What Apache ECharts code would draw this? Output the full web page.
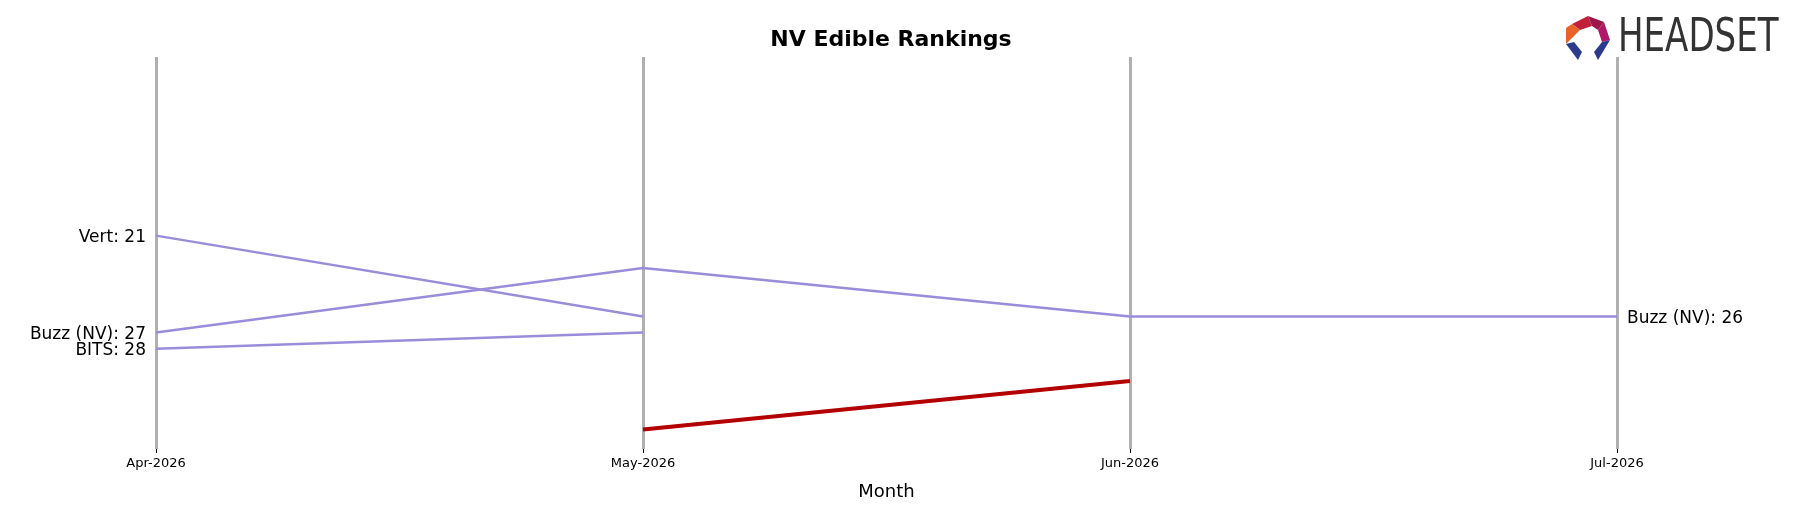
<!DOCTYPE html>
<html><head><meta charset="utf-8">
<script src="https://cdn.jsdelivr.net/npm/echarts@6/dist/echarts.min.js"></script>
<style>html,body{margin:0;background:#fff}#c{width:1802px;height:506px}</style>
</head><body><div id="c"></div>
<script>
const months = ['Apr-2026','May-2026','Jun-2026','Jul-2026'];
const vert = [21, 26, null, null];
const buzz = [27, 23, 26, 26];
const bits = [28, 27, null, null];
const brand = [null, 33, 30, null];

const chart = echarts.init(document.getElementById('c'));
const font = {fontSize:17, color:'#000', fontFamily:'DejaVu Sans', offset:[0,2]};
function leftLabel(name){
  return Object.assign({show:true, position:'left', distance:10,
    formatter:p=>p.dataIndex===0?name+': '+p.value:''}, font);
}
const purple = '#9b8cdb';
const common = {type:'line', symbol:'circle', symbolSize:0.01, showSymbol:true};
chart.setOption({
  animation:false,
  title:{text:'NV Edible Rankings', left:886, textAlign:'center', top:24, textStyle:{fontSize:22,fontWeight:'bold',color:'#000',fontFamily:'DejaVu Sans'}},
  grid:{left:156, right:185, top:57, bottom:56},
  xAxis:{type:'category', data:months, boundaryGap:false,
    axisLine:{show:false}, axisTick:{show:true,length:4,lineStyle:{color:'#000'}},
    axisLabel:{fontSize:13,color:'#000',margin:8,fontFamily:'DejaVu Sans'},
    splitLine:{show:true,lineStyle:{color:'#b0b0b0',width:3}},
    name:'Month', nameLocation:'middle', nameGap:34, nameTextStyle:{fontSize:18,color:'#000',fontFamily:'DejaVu Sans'}},
  yAxis:{type:'value', inverse:true, min:9.95, max:34.2, show:false},
  series:[
    Object.assign({name:'Vert',data:vert,lineStyle:{color:purple,width:2.5},itemStyle:{color:purple},label:leftLabel('Vert')},common),
    Object.assign({name:'Buzz (NV)',data:buzz,lineStyle:{color:purple,width:2.5},itemStyle:{color:purple},
      label:Object.assign({show:true,position:'left',distance:10,
        formatter:p=>p.dataIndex===0?'Buzz (NV): '+p.value:''},font),
      endLabel:Object.assign({show:true,distance:10,formatter:p=>'Buzz (NV): '+p.value},font)},common),
    Object.assign({name:'BITS',data:bits,lineStyle:{color:purple,width:2.5},itemStyle:{color:purple},label:leftLabel('BITS')},common),
    Object.assign({name:'Brand',data:brand,lineStyle:{color:'#b30000',width:4},itemStyle:{color:'#b30000'}},common)
  ],
  graphic:[
    {type:'polygon',shape:{points:[[1572,24],[1588,16],[1592,26],[1580,30]]},style:{fill:'#c0203a'}},
    {type:'polygon',shape:{points:[[1588,16],[1604,22],[1598,30],[1592,26]]},style:{fill:'#9c1848'}},
    {type:'polygon',shape:{points:[[1566,28],[1572,24],[1580,30],[1574,36],[1566,44]]},style:{fill:'#e8632a'}},
    {type:'polygon',shape:{points:[[1604,22],[1610,40],[1602,42],[1598,30]]},style:{fill:'#b0186a'}},
    {type:'polygon',shape:{points:[[1566,44],[1574,42],[1582,52],[1578,60]]},style:{fill:'#2b3a8c'}},
    {type:'polygon',shape:{points:[[1610,40],[1602,42],[1594,52],[1598,60]]},style:{fill:'#2b3a8c'}},
    {type:'text',x:1618,y:16,scaleX:0.74,style:{text:'HEADSET',fontSize:46,fontFamily:'DejaVu Sans',fill:'#333'}}
  ]
});
</script></body></html>
